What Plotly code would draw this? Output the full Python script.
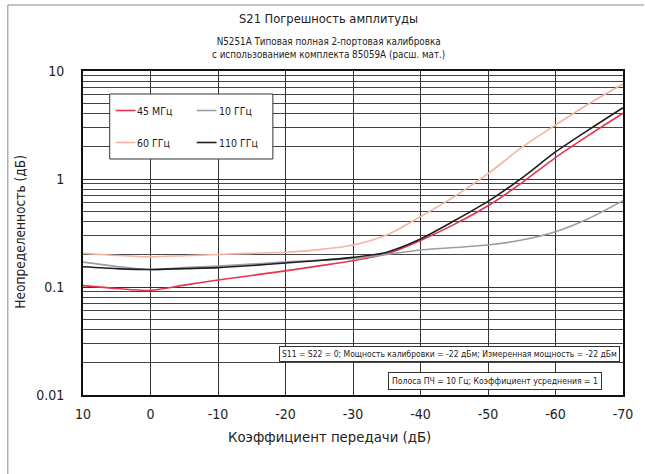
import plotly.graph_objects as go

# Transmission coefficient (dB) and S21 magnitude uncertainty (dB) per frequency
gain_db = [10, 5, 0, -5, -10, -15, -20, -25, -30, -35, -40, -45, -50, -55, -60, -65, -70]

unc_45mhz = [0.103, 0.097, 0.093, 0.104, 0.116, 0.128, 0.141, 0.157, 0.175, 0.203, 0.27, 0.38, 0.565, 0.92, 1.58, 2.56, 4.06]
unc_10ghz = [0.17, 0.155, 0.145, 0.151, 0.156, 0.163, 0.171, 0.177, 0.184, 0.2, 0.22, 0.232, 0.245, 0.272, 0.325, 0.433, 0.63]
unc_60ghz = [0.205, 0.196, 0.19, 0.195, 0.2, 0.205, 0.21, 0.222, 0.245, 0.303, 0.448, 0.686, 1.12, 1.96, 3.16, 5.0, 7.58]
unc_110ghz = [0.154, 0.148, 0.145, 0.148, 0.151, 0.158, 0.167, 0.176, 0.188, 0.21, 0.278, 0.41, 0.62, 1.02, 1.78, 2.88, 4.57]

series_names = ["45 МГц", "10 ГГц", "60 ГГц", "110 ГГц"]
series_values = [unc_45mhz, unc_10ghz, unc_60ghz, unc_110ghz]
series_colors = ["#e8334d", "#9a9fa6", "#f5b3a3", "#1e1e1e"]

x_ticks = [10, 0, -10, -20, -30, -40, -50, -60, -70]
y_ticks = [0.01, 0.1, 1, 10]
y_ticktext = ["0.01", "0.1", "1", "10"]
y_minor = [m * d for d in (0.01, 0.1, 1) for m in range(2, 10)]

FONT = "DejaVu Sans Condensed, Roboto, sans-serif"

# plot area in pixels
W, H = 645, 474
L, R, T, B = 83, 629, 71, 395


def px(x):
    return (x - L) / (R - L)


def py(y):
    return (B - y) / (B - T)


fig = go.Figure()
for name, vals, col in zip(series_names, series_values, series_colors):
    fig.add_trace(go.Scatter(
        x=gain_db, y=vals, mode="lines", name=name,
        line=dict(color=col, width=1.6, shape="spline", smoothing=0.7),
        showlegend=False,
    ))

shapes = []
annotations = []

# outer frame (left and top edges)
shapes.append(dict(type="line", xref="paper", yref="paper", x0=px(7), x1=px(7), y0=py(5), y1=py(480),
                   line=dict(color="#8a8a8a", width=1)))
shapes.append(dict(type="line", xref="paper", yref="paper", x0=px(7), x1=px(650), y0=py(5), y1=py(5),
                   line=dict(color="#8a8a8a", width=1)))

# legend box
shapes.append(dict(type="rect", xref="paper", yref="paper", x0=px(110), x1=px(275), y0=py(94), y1=py(159),
                   line=dict(color="#333333", width=1), fillcolor="white", layer="above"))
legend_pos = [(116, 110.5), (198, 110.5), (116, 142.5), (198, 142.5)]
for (lx, ly), name, col in zip(legend_pos, series_names, series_colors):
    shapes.append(dict(type="line", xref="paper", yref="paper", x0=px(lx), x1=px(lx + 20), y0=py(ly), y1=py(ly),
                       line=dict(color=col, width=1.6), layer="above"))
    annotations.append(dict(xref="paper", yref="paper", x=px(lx + 20), y=py(ly), text=name, showarrow=False,
                            xanchor="left", yanchor="middle", font=dict(family=FONT, size=10.5, color="#222")))

# condition boxes
annotations.append(dict(xref="paper", yref="paper", x=px(281), y=py(346), xanchor="left", yanchor="top",
                        text="S11 = S22 = 0; Мощность калибровки = -22 дБм; Измеренная мощность = -22 дБм",
                        showarrow=False, font=dict(family=FONT, size=8.5, color="#222"),
                        bgcolor="white", bordercolor="#333", borderwidth=1, borderpad=2))
annotations.append(dict(xref="paper", yref="paper", x=px(391), y=py(372), xanchor="left", yanchor="top",
                        text="Полоса ПЧ = 10 Гц; Коэффициент усреднения = 1",
                        showarrow=False, font=dict(family=FONT, size=8.6, color="#222"),
                        bgcolor="white", bordercolor="#333", borderwidth=1, borderpad=3))

# titles
annotations.append(dict(xref="paper", yref="paper", x=px(331), y=py(19), text="S21 Погрешность амплитуды",
                        showarrow=False, xanchor="center", yanchor="middle",
                        font=dict(family=FONT, size=12.8, color="#222")))
annotations.append(dict(xref="paper", yref="paper", x=px(331), y=py(48),
                        text="N5251A Типовая полная 2-портовая калибровка<br>с использованием комплекта 85059A (расш. мат.)",
                        showarrow=False, xanchor="center", yanchor="middle",
                        font=dict(family=FONT, size=9.8, color="#222")))
annotations.append(dict(xref="paper", yref="paper", x=px(332), y=py(437), text="Коэффициент передачи (дБ)",
                        showarrow=False, xanchor="center", yanchor="middle",
                        font=dict(family=FONT, size=14.8, color="#222")))
annotations.append(dict(xref="paper", yref="paper", x=px(19), y=py(232), text="Неопределенность (дБ)",
                        showarrow=False, xanchor="center", yanchor="middle", textangle=-90,
                        font=dict(family=FONT, size=13.6, color="#222")))

fig.update_layout(
    width=W, height=H,
    margin=dict(l=L, r=W - R, t=T, b=H - B),
    paper_bgcolor="white", plot_bgcolor="white",
    font=dict(family=FONT, size=13, color="#222"),
    showlegend=False,
    shapes=shapes, annotations=annotations,
    xaxis=dict(range=[10, -70], tickvals=x_ticks, ticktext=[str(v) for v in x_ticks],
               showgrid=True, gridcolor="#333", gridwidth=1, zeroline=False,
               showline=True, linecolor="#111", linewidth=2, mirror=True,
               ticks="", ticklabelstandoff=5, tickfont=dict(family=FONT, size=14, color="#222")),
    yaxis=dict(type="log", range=[-2, 1], tickvals=y_ticks, ticktext=y_ticktext,
               showgrid=True, gridcolor="#333", gridwidth=1, zeroline=False,
               showline=True, linecolor="#111", linewidth=2, mirror=True,
               ticks="", ticklabelstandoff=14, tickfont=dict(family=FONT, size=14, color="#222")),
)
fig.update_yaxes(minor=dict(tickvals=y_minor, showgrid=True, gridcolor="#444", gridwidth=1))

fig.write_html("out.html")
